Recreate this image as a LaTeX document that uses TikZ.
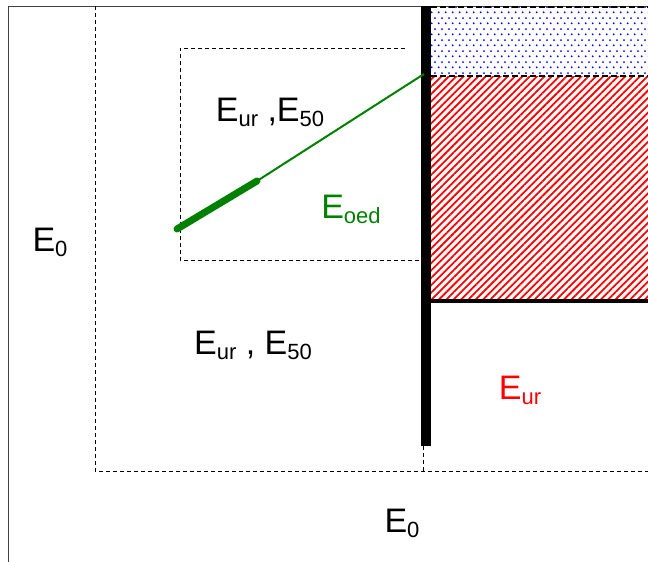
\documentclass[tikz,border=0pt]{standalone}
\usepackage{fontspec}
\setmainfont{Liberation Sans}
\usepackage{tikz}
\usetikzlibrary{patterns,patterns.meta,positioning}
\definecolor{soilgreen}{HTML}{008000}
\definecolor{dotblue}{HTML}{0000FF}
\definecolor{hatchred}{HTML}{FF0000}
\newcommand\lsub[1]{\raisebox{-5pt}{\fontsize{22}{22}\selectfont #1}}
\tikzdeclarepattern{
  name=stagdots,
  type=uncolored,
  bottom left={(0pt,0pt)},
  top right={(7.3pt,11.2pt)},
  tile size={(7.3pt,11.2pt)},
  code={
    \fill (1.8pt,2.8pt) circle (1.1pt);
    \fill (5.45pt,8.4pt) circle (1.1pt);
  }
}
\tikzset{
  lbl/.style={inner sep=0pt,font=\fontsize{34}{34}\selectfont},
  zone/.style={dash pattern=on 4pt off 3pt,line width=0.8pt},
  bound/.style={dash pattern=on 6pt off 3pt,line width=2.6pt},
}
\begin{document}
\begin{tikzpicture}[x=1pt,y=-1pt]
  \useasboundingbox (0,0) rectangle (648,562);
  % outer frame
  \draw[black!75,line width=0.9pt] (8,562) -- (8,6) -- (648,6);
  % zones of influence
  \draw[zone] (95,6) -- (95,471) -- (648,471);
  \draw[zone] (423,446) -- (423,471);
  \draw[zone] (405,48) -- (180,48) -- (180,260) -- (421,260);
  % soil blocks behind the wall
  \fill[pattern=stagdots,pattern color=dotblue] (431,7) rectangle (648,76);
  \fill[pattern={Lines[angle=45,distance=5.2pt,line width=1.8pt]},pattern color=hatchred]
    (431,76) rectangle (648,301);
  \draw[bound] (431,7) -- (648,7);
  \draw[bound] (431,76) -- (648,76);
  \draw[line width=4.5pt] (429,301) -- (648,301);
  % wall
  \fill (421,6) rectangle (431,446);
  % stress path
  \draw[soilgreen,line width=2pt] (257,181) -- (424,74);
  \draw[soilgreen,line width=7pt,line cap=round] (177,229) -- (257,181);
  % labels
  \node[lbl] (e0left) at (50,242) {E\lsub{0}};
  \node[lbl] (eupper) at (270,112) {E\lsub{ur} ,E\lsub{50}};
  \node[lbl,text=soilgreen] (eoed) at (351,209) {E\lsub{oed}};
  \node[lbl] (elower) at (253,345) {E\lsub{ur} , E\lsub{50}};
  \node[lbl,text=hatchred] (eurright) at (520,390) {E\lsub{ur}};
  \node[lbl] (e0bottom) at (402,523) {E\lsub{0}};
\end{tikzpicture}
\end{document}
